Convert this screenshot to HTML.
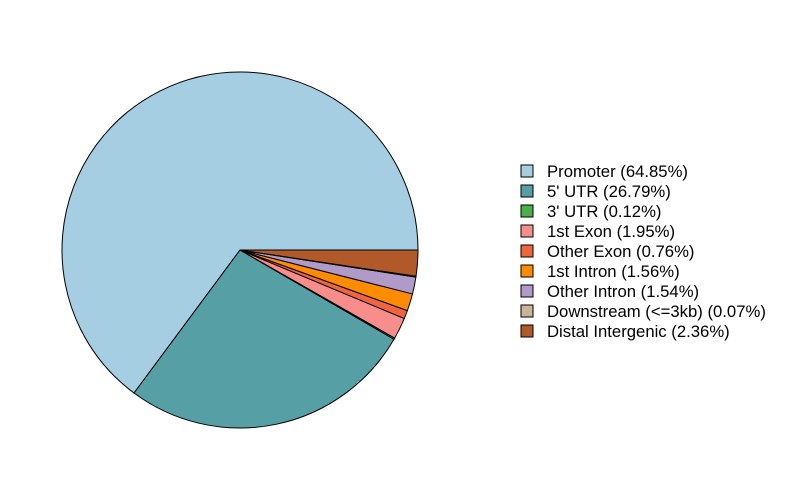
<!DOCTYPE html>
<html><head><meta charset="utf-8"><style>
body{margin:0;background:#fff;}
svg{display:block;font-family:"Liberation Sans",sans-serif;}
</style></head><body>
<svg id="chart" width="800" height="500"></svg>
<script>
const categories=["Promoter","5' UTR","3' UTR","1st Exon","Other Exon","1st Intron","Other Intron","Downstream (<=3kb)","Distal Intergenic"];
const values=[64.85,26.79,0.12,1.95,0.76,1.56,1.54,0.07,2.36];
const colors=["#A6CEE3","#56A0A5","#4DAF4A","#F88E8C","#EE6640","#FF8C00","#B09AC8","#C8B496","#B15928"];
const svg=document.getElementById('chart');
const NS='http://www.w3.org/2000/svg';
const cx=240,cy=250,r=178;
const total=values.reduce((a,b)=>a+b,0);
let a0=0;
const pieG=document.createElementNS(NS,'g');


svg.appendChild(pieG);
values.forEach((v,i)=>{
  const a1=a0+v/total*2*Math.PI;
  const x0=cx+r*Math.cos(a0),y0=cy-r*Math.sin(a0);
  const x1=cx+r*Math.cos(a1),y1=cy-r*Math.sin(a1);
  const large=(a1-a0)>Math.PI?1:0;
  const p=document.createElementNS(NS,'path');
  p.setAttribute('d',`M${cx},${cy}L${x0},${y0}A${r},${r} 0 ${large} 0 ${x1},${y1}Z`);
  p.setAttribute('fill',colors[i]);
  p.setAttribute('stroke','#000');
  p.setAttribute('stroke-width','1');
  
  
  pieG.appendChild(p);
  a0=a1;
});
const legG=document.createElementNS(NS,'g');


svg.appendChild(legG);
categories.forEach((c,i)=>{
  const y=171+i*20;
  const g=document.createElementNS(NS,'g');
  
  
  const rc=document.createElementNS(NS,'rect');
  rc.setAttribute('x',521);rc.setAttribute('y',y-6);
  rc.setAttribute('width',12);rc.setAttribute('height',12);
  rc.setAttribute('fill',colors[i]);rc.setAttribute('stroke','#000');
  
  
  const t=document.createElementNS(NS,'text');
  t.setAttribute('x',547);t.setAttribute('y',y+6);
  t.setAttribute('font-size','16.7');
  t.textContent=`${c} (${values[i].toFixed(2)}%)`;
  
  
  g.appendChild(rc);g.appendChild(t);legG.appendChild(g);
});
</script>
</body></html>
